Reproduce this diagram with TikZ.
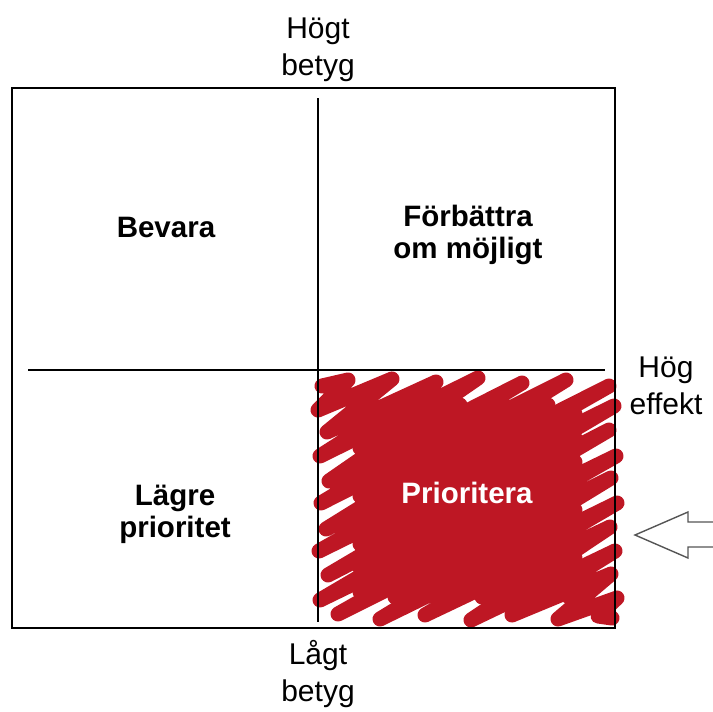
\documentclass[tikz,border=0pt]{standalone}
\usepackage{fontspec}
\setmainfont{Liberation Sans}
\definecolor{scribred}{RGB}{190,23,36}
\definecolor{arrowgray}{RGB}{85,85,85}
\begin{document}
\begin{tikzpicture}[x=1pt,y=-1pt,
  axislabel/.style={align=center,font=\fontsize{30}{37}\selectfont,inner sep=0pt},
  quadlabel/.style={align=center,font=\fontsize{29.5}{32}\selectfont\bfseries,inner sep=0pt},
  frame/.style={line width=2.8pt,black},
  divider/.style={line width=2.4pt,black},
  scribble/.style={scribred,line width=15pt,line cap=round,line join=round},
  openarrow/.style={arrowgray,line width=1.4pt,line join=miter}]
\useasboundingbox (0,0) rectangle (713,712);
% red scribble in the lower-right quadrant: inner layer
\draw[scribble] (360,424) -- (417,405) -- (360,448) -- (460,405) -- (360,472) -- (504,405)
  -- (360,496) -- (548,405) -- (360,520) -- (575,414) -- (360,544) -- (575,438)
  -- (360,568) -- (575,462) -- (360,592) -- (575,486) -- (395,597) -- (575,510)
  -- (439,597) -- (575,534) -- (482,597) -- (575,558) -- (526,597) -- (575,582)
  -- (569,597);
% outer layer
\draw[scribble] (322,386) -- (348,380) -- (318,410) -- (392,379) -- (327,432) -- (436,382)
  -- (320,456) -- (478,378) -- (329,481) -- (522,383) -- (321,503) -- (566,380)
  -- (326,529) -- (609,386) -- (319,551) -- (614,406) -- (328,575) -- (609,430)
  -- (320,600) -- (616,456) -- (338,614) -- (611,478) -- (380,619) -- (617,503)
  -- (425,615) -- (610,527) -- (471,620) -- (615,551) -- (512,615) -- (611,574)
  -- (558,619) -- (617,598) -- (598,616) -- (612,618);
% frame and dividers
\draw[frame] (12,88) rectangle (615,628);
\coordinate (vtop) at (318,98);
\coordinate (vbot) at (318,622);
\coordinate (hleft) at (28,370);
\coordinate (hright) at (605,370);
\draw[divider] (vtop) -- (vbot);
\draw[divider] (hleft) -- (hright);
% open arrow at the right
\draw[openarrow] (713,522) -- (688,522) -- (688,512) -- (635,535) -- (688,558) -- (688,547) -- (713,547);
% axis labels
\node[axislabel] (hogtbetyg) at (318,50) {Högt\\betyg};
\node[axislabel] (lagtbetyg) at (318,674) {Lågt\\betyg};
\node[axislabel] (hogeffekt) at (666,386) {Hög\\effekt};
% quadrant labels
\node[quadlabel,anchor=base] (bevara) at (166,237) {Bevara};
\node[quadlabel] (forbattra) at (468,235) {Förbättra\\om möjligt};
\node[quadlabel] (lagre) at (175,514) {Lägre\\prioritet};
\node[quadlabel,anchor=base,text=white] (prioritera) at (467,503) {Prioritera};
\end{tikzpicture}
\end{document}
